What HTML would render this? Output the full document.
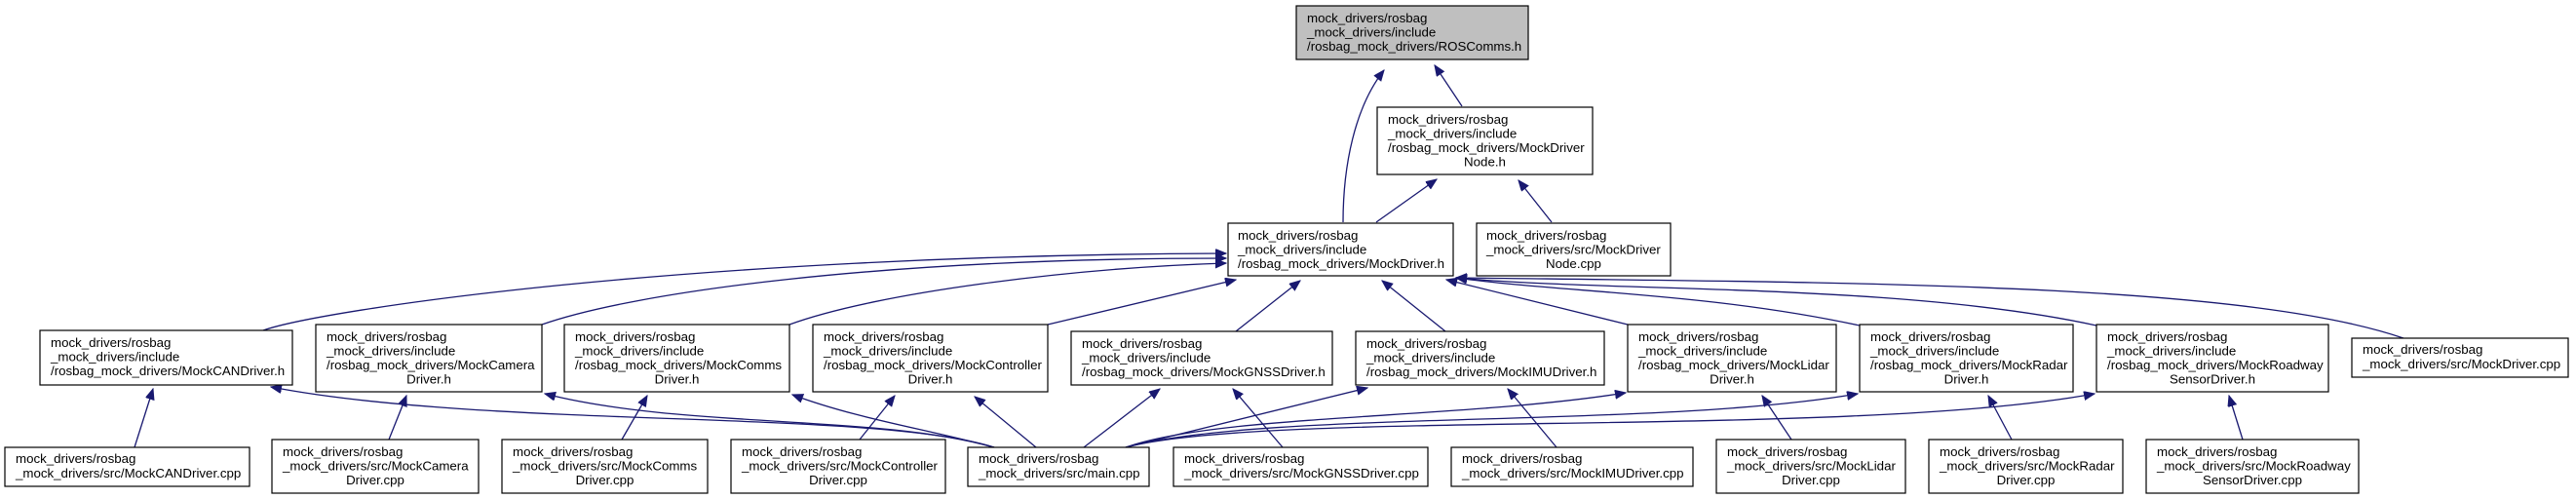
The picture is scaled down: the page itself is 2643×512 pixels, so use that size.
<!DOCTYPE html>
<html><head><meta charset="utf-8"><style>
html,body{margin:0;padding:0;background:#fff;}
svg{display:block;}
text{font-family:"Liberation Sans",Arial,sans-serif;font-size:13.3px;fill:#000;}
.b{fill:#fff;stroke:#000;stroke-width:1.2;}
.e{fill:none;stroke:#191970;stroke-width:1.3;}
</style></head><body>
<svg width="2643" height="512" viewBox="0 0 2643 512" xmlns="http://www.w3.org/2000/svg">
<defs>
<marker id="a" markerWidth="12" markerHeight="10" refX="11" refY="4.5" orient="auto" markerUnits="userSpaceOnUse">
<path d="M0,0 L11,4.5 L0,9 Z" fill="#191970" stroke="#191970"/>
</marker>
</defs>
<g class="e" marker-end="url(#a)">
<path d="M1378,228 C1378,170 1390,110 1420,72"/>
<path d="M1500,109 L1472,67"/>
<path d="M1412,228 L1474,184"/>
<path d="M1592,228 L1558,185"/>
<path d="M270,339 C330,318 700,262 1258,260"/>
<path d="M556,333 C650,300 900,265 1258,265"/>
<path d="M810,333 C900,300 1100,275 1258,270"/>
<path d="M1075,333 L1268,287"/>
<path d="M1268,340 L1334,288"/>
<path d="M1483,340 L1418,288"/>
<path d="M1670,333 L1484,287"/>
<path d="M1908,334 C1750,300 1600,300 1494,285"/>
<path d="M2151,334 C1950,290 1650,300 1494,285"/>
<path d="M2466,347 C2300,290 1900,290 1494,285"/>
<path d="M138,459 L157,399"/>
<path d="M399,451 L417,406"/>
<path d="M638,451 L664,406"/>
<path d="M882,451 L918,406"/>
<path d="M1020,459 C900,420 500,440 278,397"/>
<path d="M1020,459 C900,425 700,440 559,404"/>
<path d="M1020,459 C950,440 880,430 813,405"/>
<path d="M1063,459 L1000,407"/>
<path d="M1112,459 L1190,399"/>
<path d="M1155,459 L1403,398"/>
<path d="M1155,459 C1250,425 1500,430 1668,403"/>
<path d="M1155,459 C1300,420 1700,440 1906,404"/>
<path d="M1155,459 C1300,420 1900,450 2149,404"/>
<path d="M1316,459 L1265,399"/>
<path d="M1597,459 L1547,399"/>
<path d="M1838,451 L1808,406"/>
<path d="M2064,451 L2040,406"/>
<path d="M2301,451 L2287,406"/>
</g>

<!-- top -->
<rect x="1330" y="6" width="238" height="55" fill="#bfbfbf" stroke="#000" stroke-width="1.2"/>
<text x="1341" y="23">mock_drivers/rosbag</text><text x="1341" y="37.5">_mock_drivers/include</text><text x="1341" y="52">/rosbag_mock_drivers/ROSComms.h</text>

<rect class="b" x="1413" y="110" width="221" height="69"/>
<text x="1424" y="127">mock_drivers/rosbag</text><text x="1424" y="141.5">_mock_drivers/include</text><text x="1424" y="156">/rosbag_mock_drivers/MockDriver</text><text x="1523.5" y="170.5" text-anchor="middle">Node.h</text>

<rect class="b" x="1260" y="229" width="231" height="54"/>
<text x="1270" y="246">mock_drivers/rosbag</text><text x="1270" y="260.5">_mock_drivers/include</text><text x="1270" y="275">/rosbag_mock_drivers/MockDriver.h</text>

<rect class="b" x="1515" y="229" width="199" height="54"/>
<text x="1525" y="246">mock_drivers/rosbag</text><text x="1525" y="260.5">_mock_drivers/src/MockDriver</text><text x="1614.5" y="275" text-anchor="middle">Node.cpp</text>

<!-- row 2 -->
<rect class="b" x="41" y="339" width="259" height="56"/>
<text x="52" y="356">mock_drivers/rosbag</text><text x="52" y="370.5">_mock_drivers/include</text><text x="52" y="385">/rosbag_mock_drivers/MockCANDriver.h</text>

<rect class="b" x="324" y="333" width="232" height="69"/>
<text x="335" y="350">mock_drivers/rosbag</text><text x="335" y="364.5">_mock_drivers/include</text><text x="335" y="379">/rosbag_mock_drivers/MockCamera</text><text x="440" y="393.5" text-anchor="middle">Driver.h</text>

<rect class="b" x="579" y="333" width="231" height="69"/>
<text x="590" y="350">mock_drivers/rosbag</text><text x="590" y="364.5">_mock_drivers/include</text><text x="590" y="379">/rosbag_mock_drivers/MockComms</text><text x="694.5" y="393.5" text-anchor="middle">Driver.h</text>

<rect class="b" x="834" y="333" width="241" height="69"/>
<text x="845" y="350">mock_drivers/rosbag</text><text x="845" y="364.5">_mock_drivers/include</text><text x="845" y="379">/rosbag_mock_drivers/MockController</text><text x="954.5" y="393.5" text-anchor="middle">Driver.h</text>

<rect class="b" x="1099" y="340" width="268" height="55"/>
<text x="1110" y="357">mock_drivers/rosbag</text><text x="1110" y="371.5">_mock_drivers/include</text><text x="1110" y="386">/rosbag_mock_drivers/MockGNSSDriver.h</text>

<rect class="b" x="1391" y="340" width="255" height="55"/>
<text x="1402" y="357">mock_drivers/rosbag</text><text x="1402" y="371.5">_mock_drivers/include</text><text x="1402" y="386">/rosbag_mock_drivers/MockIMUDriver.h</text>

<rect class="b" x="1670" y="333" width="214" height="69"/>
<text x="1681" y="350">mock_drivers/rosbag</text><text x="1681" y="364.5">_mock_drivers/include</text><text x="1681" y="379">/rosbag_mock_drivers/MockLidar</text><text x="1777" y="393.5" text-anchor="middle">Driver.h</text>

<rect class="b" x="1908" y="333" width="219" height="69"/>
<text x="1919" y="350">mock_drivers/rosbag</text><text x="1919" y="364.5">_mock_drivers/include</text><text x="1919" y="379">/rosbag_mock_drivers/MockRadar</text><text x="2017.5" y="393.5" text-anchor="middle">Driver.h</text>

<rect class="b" x="2151" y="333" width="238" height="69"/>
<text x="2162" y="350">mock_drivers/rosbag</text><text x="2162" y="364.5">_mock_drivers/include</text><text x="2162" y="379">/rosbag_mock_drivers/MockRoadway</text><text x="2270" y="393.5" text-anchor="middle">SensorDriver.h</text>

<rect class="b" x="2413" y="347" width="222" height="40"/>
<text x="2424" y="363">mock_drivers/rosbag</text><text x="2424" y="378">_mock_drivers/src/MockDriver.cpp</text>

<!-- row 3 -->
<rect class="b" x="5" y="459" width="251" height="40"/>
<text x="16" y="475">mock_drivers/rosbag</text><text x="16" y="490">_mock_drivers/src/MockCANDriver.cpp</text>

<rect class="b" x="279" y="451" width="212" height="55"/>
<text x="290" y="468">mock_drivers/rosbag</text><text x="290" y="482.5">_mock_drivers/src/MockCamera</text><text x="385" y="497" text-anchor="middle">Driver.cpp</text>

<rect class="b" x="515" y="451" width="211" height="55"/>
<text x="526" y="468">mock_drivers/rosbag</text><text x="526" y="482.5">_mock_drivers/src/MockComms</text><text x="620.5" y="497" text-anchor="middle">Driver.cpp</text>

<rect class="b" x="750" y="451" width="220" height="55"/>
<text x="761" y="468">mock_drivers/rosbag</text><text x="761" y="482.5">_mock_drivers/src/MockController</text><text x="860" y="497" text-anchor="middle">Driver.cpp</text>

<rect class="b" x="993" y="459" width="186" height="40"/>
<text x="1004" y="475">mock_drivers/rosbag</text><text x="1004" y="490">_mock_drivers/src/main.cpp</text>

<rect class="b" x="1204" y="459" width="261" height="40"/>
<text x="1215" y="475">mock_drivers/rosbag</text><text x="1215" y="490">_mock_drivers/src/MockGNSSDriver.cpp</text>

<rect class="b" x="1489" y="459" width="248" height="40"/>
<text x="1500" y="475">mock_drivers/rosbag</text><text x="1500" y="490">_mock_drivers/src/MockIMUDriver.cpp</text>

<rect class="b" x="1761" y="451" width="194" height="55"/>
<text x="1772" y="468">mock_drivers/rosbag</text><text x="1772" y="482.5">_mock_drivers/src/MockLidar</text><text x="1858" y="497" text-anchor="middle">Driver.cpp</text>

<rect class="b" x="1979" y="451" width="199" height="55"/>
<text x="1990" y="468">mock_drivers/rosbag</text><text x="1990" y="482.5">_mock_drivers/src/MockRadar</text><text x="2078.5" y="497" text-anchor="middle">Driver.cpp</text>

<rect class="b" x="2202" y="451" width="218" height="55"/>
<text x="2213" y="468">mock_drivers/rosbag</text><text x="2213" y="482.5">_mock_drivers/src/MockRoadway</text><text x="2311" y="497" text-anchor="middle">SensorDriver.cpp</text>
</svg>
</body></html>
